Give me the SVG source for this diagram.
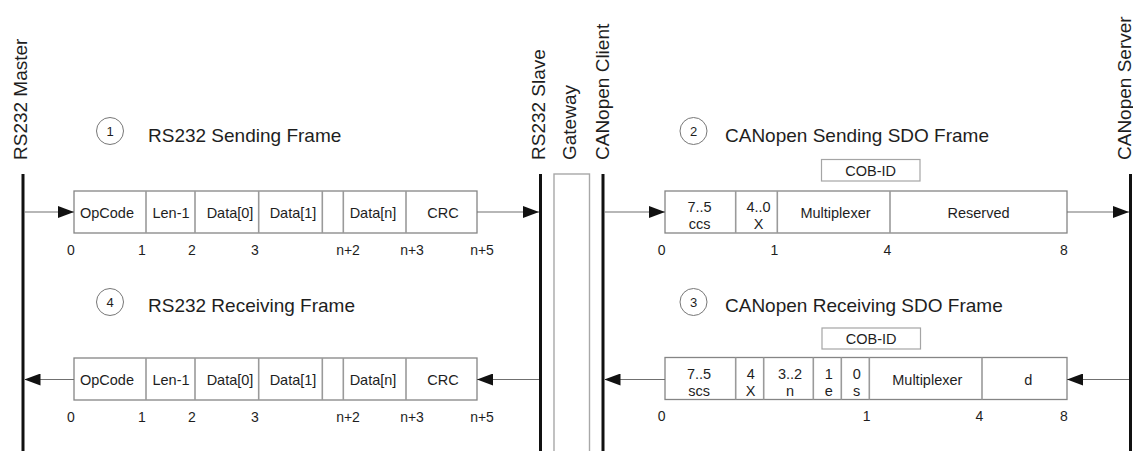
<svg xmlns="http://www.w3.org/2000/svg" width="1133" height="451" viewBox="0 0 1133 451">
  <style>
    text { font-family: "Liberation Sans", Arial, sans-serif; fill: #1e1e1e; }
    .lane { stroke: #111; stroke-width: 3; }
    .lane-label { font-size: 19px; }
    .gw { fill: none; stroke: #a8a8a8; stroke-width: 1.4; }
    .title { font-size: 19px; }
    .badge { fill: #fff; stroke: #777; stroke-width: 1; }
    .badge-num { font-size: 13px; text-anchor: middle; }
    .frame { fill: #fff; stroke: #858585; stroke-width: 1.3; }
    .div { stroke: #9a9a9a; stroke-width: 1.6; }
    .cob { fill: #fff; stroke: #a5a5a5; stroke-width: 1.2; }
    .cell { font-size: 14.5px; text-anchor: middle; }
    .idx { font-size: 14px; text-anchor: middle; }
    .arrow { stroke: #707070; stroke-width: 1.1; fill: none; marker-end: url(#head); }
  </style>
  <defs>
    <marker id="head" markerUnits="userSpaceOnUse" markerWidth="16" markerHeight="12" refX="16" refY="6" orient="auto">
      <path d="M0,0 L16,6 L0,12 Z" fill="#111"/>
    </marker>
  </defs>

  <rect width="1133" height="451" fill="#fff"/>

  <!-- participants -->
  <g id="rs232-master">
    <line class="lane" x1="23" y1="174" x2="23" y2="451"/>
    <text class="lane-label" transform="translate(27,160) rotate(-90)">RS232 Master</text>
  </g>
  <g id="rs232-slave">
    <line class="lane" x1="540.5" y1="174" x2="540.5" y2="451"/>
    <text class="lane-label" transform="translate(545,160) rotate(-90)">RS232 Slave</text>
  </g>
  <g id="gateway">
    <rect class="gw" x="554" y="174" width="35.5" height="290"/>
    <text class="lane-label" transform="translate(576,160) rotate(-90)">Gateway</text>
  </g>
  <g id="canopen-client">
    <line class="lane" x1="603" y1="174" x2="603" y2="451"/>
    <text class="lane-label" transform="translate(609,160) rotate(-90)">CANopen Client</text>
  </g>
  <g id="canopen-server">
    <line class="lane" x1="1130.5" y1="174" x2="1130.5" y2="451"/>
    <text class="lane-label" transform="translate(1131,160) rotate(-90)">CANopen Server</text>
  </g>

  <!-- step 1: RS232 sending frame -->
  <g id="rs232-send">
    <circle class="badge" cx="110" cy="131" r="13.5"/>
    <text class="badge-num" x="110" y="135.5">1</text>
    <text class="title" x="148" y="141.5">RS232 Sending Frame</text>
    <rect class="frame" x="74" y="191" width="403" height="42"/>
    <line class="div" x1="146" y1="191" x2="146" y2="233"/>
    <line class="div" x1="195" y1="191" x2="195" y2="233"/>
    <line class="div" x1="258.7" y1="191" x2="258.7" y2="233"/>
    <line class="div" x1="322.3" y1="191" x2="322.3" y2="233"/>
    <line class="div" x1="343.3" y1="191" x2="343.3" y2="233"/>
    <line class="div" x1="406" y1="191" x2="406" y2="233"/>
    <text class="cell" x="107" y="218">OpCode</text>
    <text class="cell" x="171" y="218">Len-1</text>
    <text class="cell" x="230" y="218">Data[0]</text>
    <text class="cell" x="293" y="218">Data[1]</text>
    <text class="cell" x="373" y="218">Data[n]</text>
    <text class="cell" x="443" y="218">CRC</text>
    <text class="idx" x="71" y="254.5">0</text>
    <text class="idx" x="142" y="254.5">1</text>
    <text class="idx" x="192" y="254.5">2</text>
    <text class="idx" x="255" y="254.5">3</text>
    <text class="idx" x="348" y="254.5">n+2</text>
    <text class="idx" x="412" y="254.5">n+3</text>
    <text class="idx" x="482" y="254.5">n+5</text>
  </g>

  <!-- step 4: RS232 receiving frame -->
  <g id="rs232-receive">
    <circle class="badge" cx="110" cy="302" r="13.5"/>
    <text class="badge-num" x="110" y="306.5">4</text>
    <text class="title" x="148" y="312">RS232 Receiving Frame</text>
    <rect class="frame" x="74" y="358" width="403" height="42"/>
    <line class="div" x1="146" y1="358" x2="146" y2="400"/>
    <line class="div" x1="195" y1="358" x2="195" y2="400"/>
    <line class="div" x1="258.7" y1="358" x2="258.7" y2="400"/>
    <line class="div" x1="322.3" y1="358" x2="322.3" y2="400"/>
    <line class="div" x1="343.3" y1="358" x2="343.3" y2="400"/>
    <line class="div" x1="406" y1="358" x2="406" y2="400"/>
    <text class="cell" x="107" y="385">OpCode</text>
    <text class="cell" x="171" y="385">Len-1</text>
    <text class="cell" x="230" y="385">Data[0]</text>
    <text class="cell" x="293" y="385">Data[1]</text>
    <text class="cell" x="373" y="385">Data[n]</text>
    <text class="cell" x="443" y="385">CRC</text>
    <text class="idx" x="71" y="421.5">0</text>
    <text class="idx" x="142" y="421.5">1</text>
    <text class="idx" x="192" y="421.5">2</text>
    <text class="idx" x="255" y="421.5">3</text>
    <text class="idx" x="348" y="421.5">n+2</text>
    <text class="idx" x="412" y="421.5">n+3</text>
    <text class="idx" x="482" y="421.5">n+5</text>
  </g>

  <!-- step 2: CANopen sending SDO frame -->
  <g id="canopen-send">
    <circle class="badge" cx="693.5" cy="131" r="13.5"/>
    <text class="badge-num" x="693.5" y="135.5">2</text>
    <text class="title" x="725" y="141.5">CANopen Sending SDO Frame</text>
    <rect class="cob" x="821.5" y="159.5" width="98.5" height="21.5"/>
    <text class="cell" x="870.7" y="175.5">COB-ID</text>
    <rect class="frame" x="665" y="191" width="402" height="42"/>
    <line class="div" x1="735.7" y1="191" x2="735.7" y2="233"/>
    <line class="div" x1="777.3" y1="191" x2="777.3" y2="233"/>
    <line class="div" x1="890" y1="191" x2="890" y2="233"/>
    <text class="cell" x="699.5" y="212">7..5</text>
    <text class="cell" x="699.5" y="229">ccs</text>
    <text class="cell" x="758.5" y="212">4..0</text>
    <text class="cell" x="758.5" y="229">X</text>
    <text class="cell" x="835.5" y="218">Multiplexer</text>
    <text class="cell" x="978.5" y="218">Reserved</text>
    <text class="idx" x="661.7" y="254.5">0</text>
    <text class="idx" x="774.3" y="254.5">1</text>
    <text class="idx" x="887.3" y="254.5">4</text>
    <text class="idx" x="1064" y="254.5">8</text>
  </g>

  <!-- step 3: CANopen receiving SDO frame -->
  <g id="canopen-receive">
    <circle class="badge" cx="693.5" cy="302" r="13.5"/>
    <text class="badge-num" x="693.5" y="306.5">3</text>
    <text class="title" x="725" y="312">CANopen Receiving SDO Frame</text>
    <rect class="cob" x="822" y="328" width="98.5" height="21"/>
    <text class="cell" x="871.2" y="344">COB-ID</text>
    <rect class="frame" x="665" y="357.5" width="402" height="42"/>
    <line class="div" x1="735.7" y1="357.5" x2="735.7" y2="399.5"/>
    <line class="div" x1="763.7" y1="357.5" x2="763.7" y2="399.5"/>
    <line class="div" x1="813.3" y1="357.5" x2="813.3" y2="399.5"/>
    <line class="div" x1="841.3" y1="357.5" x2="841.3" y2="399.5"/>
    <line class="div" x1="869.3" y1="357.5" x2="869.3" y2="399.5"/>
    <line class="div" x1="982" y1="357.5" x2="982" y2="399.5"/>
    <text class="cell" x="699" y="379">7..5</text>
    <text class="cell" x="699" y="396">scs</text>
    <text class="cell" x="750.7" y="379">4</text>
    <text class="cell" x="750.7" y="396">X</text>
    <text class="cell" x="790" y="379">3..2</text>
    <text class="cell" x="790" y="396">n</text>
    <text class="cell" x="828.7" y="379">1</text>
    <text class="cell" x="828.7" y="396">e</text>
    <text class="cell" x="856.7" y="379">0</text>
    <text class="cell" x="856.7" y="396">s</text>
    <text class="cell" x="927.3" y="385">Multiplexer</text>
    <text class="cell" x="1028.3" y="385">d</text>
    <text class="idx" x="661.7" y="421">0</text>
    <text class="idx" x="866.7" y="421">1</text>
    <text class="idx" x="979.3" y="421">4</text>
    <text class="idx" x="1064" y="421">8</text>
  </g>

  <!-- message flow -->
  <g id="connectors">
    <line class="arrow" x1="24.5" y1="212" x2="74" y2="212"/>
    <line class="arrow" x1="477" y1="212" x2="539" y2="212"/>
    <line class="arrow" x1="604.5" y1="212" x2="665" y2="212"/>
    <line class="arrow" x1="1067" y1="212" x2="1129" y2="212"/>
    <line class="arrow" x1="1129" y1="379.5" x2="1067" y2="379.5"/>
    <line class="arrow" x1="665" y1="379.5" x2="604.5" y2="379.5"/>
    <line class="arrow" x1="539" y1="379.5" x2="477" y2="379.5"/>
    <line class="arrow" x1="74" y1="379.5" x2="24.5" y2="379.5"/>
  </g>
</svg>
